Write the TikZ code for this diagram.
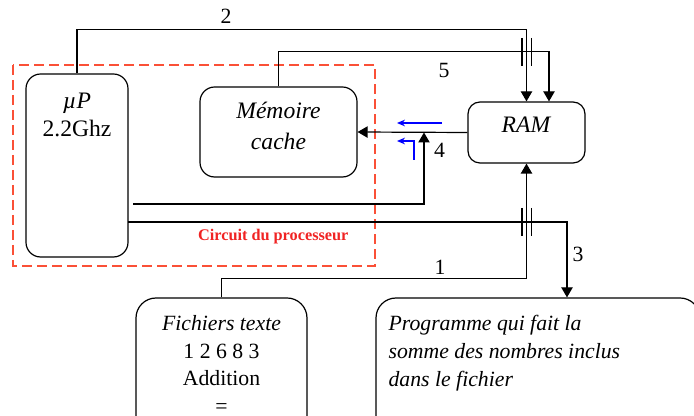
\documentclass[tikz,border=0pt]{standalone}
\usepackage{fontspec}
\setmainfont{Liberation Serif}
\usetikzlibrary{arrows.meta,calc}
\definecolor{cadre}{RGB}{250,80,55}
\definecolor{rouge}{RGB}{240,35,35}

\begin{document}
\begin{tikzpicture}[x=0.75pt,y=-0.75pt,line width=0.9pt,
  bloc/.style={draw,rounded corners=11pt,inner sep=0pt},
  fl/.style={-{Triangle[length=7.5pt,width=8.5pt]}},
  bl/.style={blue,line width=0.9pt,-{Stealth[length=6pt,width=5pt]}},
  txt/.style={font=\fontsize{16.3}{20.6}\selectfont,inner sep=0pt},
  gros/.style={font=\fontsize{17.7}{21.5}\selectfont,inner sep=0pt},
  barre/.style={line width=0.9pt}]
\useasboundingbox (0,0) rectangle (694,416);
\clip (0,0) rectangle (694,416);
\draw[cadre,line width=0.9pt,dash pattern=on 7.5pt off 3.75pt] (13,65) rectangle (375,266);
\node[rouge,font=\fontsize{12.2}{14}\selectfont\bfseries,anchor=base east,inner sep=0pt] (circ) at (349,241) {Circuit du processeur};
\node[bloc,minimum width=76.5pt,minimum height=137.25pt] (up) at (77,165.5) {};
\node[gros,align=center,anchor=north] (uptxt) at (77,92) {\textit{µP}\\[0pt]2.2Ghz};
\node[bloc,minimum width=117.75pt,minimum height=67.5pt] (mem) at (278.5,132) {};
\node[gros,align=center,anchor=north,font=\fontsize{17.7}{23}\selectfont\itshape] (memtxt) at (278.5,102) {Mémoire\\cache};
\node[bloc,rounded corners=9pt,minimum width=87.75pt,minimum height=45.75pt] (ram) at (526.5,132.5) {};
\node[gros,anchor=base] (ramtxt) at (526.5,133) {\textit{RAM}};
\node[bloc,rounded corners=15pt,minimum width=128.25pt,minimum height=106.5pt] (fich) at (221.5,369) {};
\node[txt,align=center,anchor=north] (fichtxt) at (221.5,315) {\textit{Fichiers texte}\\1 2 6 8 3\\Addition\\=};
\node[bloc,rounded corners=15pt,minimum width=243pt,minimum height=106.5pt] (prog) at (538,369) {};
\node[txt,align=left,anchor=north west,font=\fontsize{16.3}{20.8}\selectfont\itshape] (progtxt) at (388,315) {Programme qui fait la\\somme des nombres inclus\\dans le fichier};
\coordinate (r5) at ($(ram.north)+(22.5,0)$);
\coordinate (p3) at ($(prog.north)+(29,0)$);
\coordinate (s3) at (128,222);
\coordinate (s4) at (133,204);
\coordinate (j4) at (424,132.5);
\draw[fl] (up.north) -- ++(0,-44) -| (ram.north);
\draw[fl] (mem.north) -- ++(0,-35) -| (r5);
\draw[fl] (ram.west) -- (mem.east);
\draw[fl] (s4) -| (j4);
\draw[fl] (s3) -| (p3);
\draw[fl] (fich.north) -- ++(0,-19) -| (ram.south);
\draw[barre] (522,38) -- (522,66) (531.5,38) -- (531.5,66);
\draw[barre] (522,208) -- (522,236) (531.5,208) -- (531.5,236);
\draw[bl] (442,123) -- (397,123);
\draw[bl] (414,160) -- (414,141) -- (397,141);
\node[txt,anchor=base] (n2) at (226,24) {2};
\node[txt,anchor=base] (n5) at (444,78) {5};
\node[txt,anchor=base] (n4) at (439.5,158) {4};
\node[txt,anchor=base] (n3) at (578,262) {3};
\node[txt,anchor=base] (n1) at (440,275) {1};
\end{tikzpicture}
\end{document}
